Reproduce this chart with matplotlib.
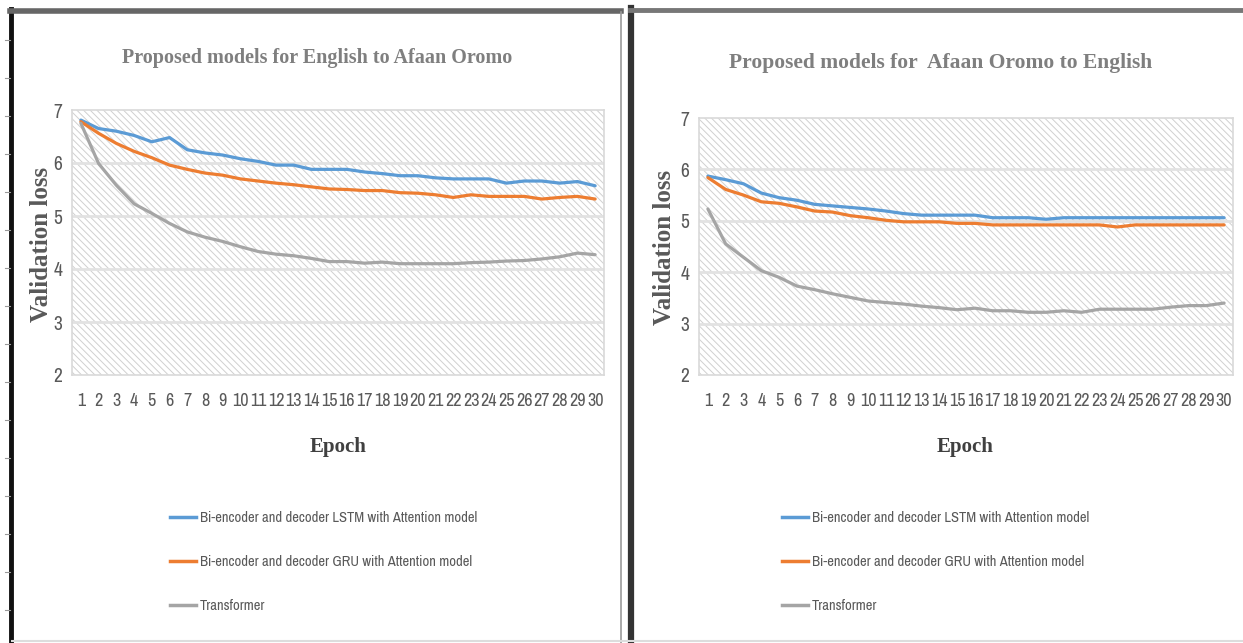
import matplotlib
matplotlib.use("Agg")
import matplotlib.pyplot as plt
from matplotlib import font_manager as fm
from matplotlib.patches import Rectangle
from matplotlib.lines import Line2D

# ─────────────────────────────
# Data
# ─────────────────────────────
epochs = list(range(1, 31))

en_om_lstm = [6.81, 6.65, 6.60, 6.52, 6.40, 6.48, 6.25, 6.19, 6.15, 6.08,
              6.03, 5.96, 5.96, 5.88, 5.88, 5.88, 5.83, 5.80, 5.76, 5.76,
              5.72, 5.70, 5.70, 5.70, 5.62, 5.66, 5.66, 5.62, 5.65, 5.57]
en_om_gru = [6.78, 6.56, 6.37, 6.22, 6.10, 5.96, 5.88, 5.81, 5.77, 5.70,
             5.66, 5.62, 5.59, 5.55, 5.51, 5.50, 5.48, 5.48, 5.44, 5.43,
             5.40, 5.35, 5.40, 5.37, 5.37, 5.37, 5.32, 5.35, 5.37, 5.32]
en_om_transformer = [6.75, 5.99, 5.58, 5.23, 5.05, 4.86, 4.70, 4.60, 4.52, 4.42,
                     4.33, 4.28, 4.25, 4.20, 4.14, 4.14, 4.11, 4.13, 4.10, 4.10,
                     4.10, 4.10, 4.12, 4.13, 4.15, 4.16, 4.19, 4.23, 4.30, 4.27]

om_en_lstm = [5.87, 5.80, 5.72, 5.54, 5.45, 5.40, 5.32, 5.29, 5.26, 5.23,
              5.19, 5.14, 5.11, 5.11, 5.11, 5.11, 5.06, 5.06, 5.06, 5.03,
              5.06, 5.06, 5.06, 5.06, 5.06, 5.06, 5.06, 5.06, 5.06, 5.06]
om_en_gru = [5.84, 5.61, 5.50, 5.37, 5.34, 5.27, 5.19, 5.17, 5.10, 5.06,
             5.01, 4.98, 4.98, 4.98, 4.95, 4.95, 4.92, 4.92, 4.92, 4.92,
             4.92, 4.92, 4.92, 4.88, 4.92, 4.92, 4.92, 4.92, 4.92, 4.92]
om_en_transformer = [5.23, 4.55, 4.29, 4.03, 3.90, 3.73, 3.66, 3.58, 3.51, 3.44,
                     3.41, 3.38, 3.34, 3.31, 3.27, 3.30, 3.25, 3.25, 3.22, 3.22,
                     3.25, 3.22, 3.28, 3.28, 3.28, 3.28, 3.32, 3.35, 3.35, 3.40]

series_names = ["Bi-encoder and decoder LSTM with Attention model",
                "Bi-encoder and decoder GRU with Attention model",
                "Transformer"]
titles = ["Proposed models for English to Afaan Oromo",
          "Proposed models for  Afaan Oromo to English"]
y_ticks = [2, 3, 4, 5, 6, 7]

# ─────────────────────────────
# Style
# ─────────────────────────────
COLORS = ["#5b9bd5", "#ed7d31", "#a5a5a5"]
SERIF = ["Liberation Serif", "DejaVu Serif"]

# look for a narrow sans (Excel uses condensed Calibri here); otherwise shrink
narrow = [f.name for f in fm.fontManager.ttflist
          if "Narrow" in f.name or "Condensed" in f.name
          or f.stretch in ("condensed", "semi-condensed")]
if narrow:
    SANS = [sorted(set(narrow))[0], "DejaVu Sans"]
    STRETCH = "condensed"
    TICK_FS, YTICK_FS, LEG_FS = 13, 14, 10.5
else:
    SANS = ["Liberation Sans", "DejaVu Sans"]
    STRETCH = "normal"
    TICK_FS, YTICK_FS, LEG_FS = 10, 11, 9

plt.rcParams["hatch.linewidth"] = 0.7

W, H = 1243, 643
fig = plt.figure(figsize=(W / 100, H / 100), dpi=100)


def box(x0, y0, x1, y1):
    """pixel box (top-left origin) -> figure fraction rect"""
    return [x0 / W, 1 - y1 / H, (x1 - x0) / W, (y1 - y0) / H]


def px(x, y):
    return x / W, 1 - y / H


# panel frames
frame = fig.add_axes([0, 0, 1, 1], zorder=-5)
frame.set_xlim(0, W)
frame.set_ylim(H, 0)
frame.axis("off")
frame.add_patch(Rectangle((0, 0), W, H, facecolor="white", edgecolor="none"))
frame.plot([11.5, 11.5], [9, 643], color="#111111", lw=3.5)
frame.plot([10, 621], [11, 11], color="#666666", lw=4)
frame.plot([621, 621], [12, 643], color="#999999", lw=1.2)
frame.plot([631.5, 631.5], [8, 643], color="#333333", lw=4.5)
frame.plot([630, W], [10, 10], color="#777777", lw=3.5)
frame.plot([12, W], [641, 641], color="#dddddd", lw=1.5)
for yy in range(40, 640, 38):
    frame.plot([5, 10], [yy, yy], color="#999999", lw=0.8)

panels = [
    dict(ax=box(72, 110, 604, 375), title=titles[0], tpos=(317, 58), tfs=14.5,
         ylab=(42, 244), epoch=(338, 447), legx=170,
         data=[en_om_lstm, en_om_gru, en_om_transformer]),
    dict(ax=box(699, 118, 1233, 375), title=titles[1], tpos=(941, 63), tfs=15.5,
         ylab=(664, 247), epoch=(965, 447), legx=782,
         data=[om_en_lstm, om_en_gru, om_en_transformer]),
]

for p in panels:
    ax = fig.add_axes(p["ax"])
    ax.set_facecolor("white")
    ax.add_patch(Rectangle((0, 0), 1, 1, transform=ax.transAxes,
                           facecolor="white", edgecolor="#d0d0d0",
                           hatch="\\\\\\\\\\", lw=0, zorder=0))
    for yv in y_ticks[1:-1]:
        ax.axhline(yv, color="#e2e2e2", lw=2, zorder=1)

    for vals, c in zip(p["data"], COLORS):
        ax.plot(epochs, vals, color=c, lw=2.3, solid_capstyle="round", zorder=3)

    ax.set_xlim(0.5, 30.5)
    ax.set_ylim(2, 7)
    ax.set_xticks(epochs)
    ax.set_yticks(y_ticks)
    ax.tick_params(length=0, pad=13, labelsize=TICK_FS, labelcolor="#595959")
    ax.tick_params(axis="y", pad=7, labelsize=YTICK_FS)
    for lab in ax.get_xticklabels() + ax.get_yticklabels():
        lab.set_family(SANS)
        lab.set_stretch(STRETCH)
    for s in ax.spines.values():
        s.set_color("#d9d9d9")
        s.set_linewidth(1.2)

    fig.text(*px(*p["tpos"]), p["title"], ha="center", va="center",
             family=SERIF, fontweight="bold", fontsize=p["tfs"], color="#7f7f7f")
    fig.text(*px(*p["ylab"]), "Validation loss", rotation=90, ha="center",
             va="center", family=SERIF, fontweight="bold", fontsize=18,
             color="#595959")
    fig.text(*px(*p["epoch"]), "Epoch", ha="center", va="center",
             family=SERIF, fontweight="bold", fontsize=15, color="#404040")

    handles = [Line2D([], [], color=c, lw=2.5) for c in COLORS]
    leg_px = LEG_FS * 100 / 72
    lx, ly = px(p["legx"], 518 - 0.5 * 0.95 * leg_px)
    fig.legend(handles, series_names, loc="upper left", bbox_to_anchor=(lx, ly),
               frameon=False, handlelength=26 / leg_px, handletextpad=4 / leg_px,
               labelspacing=(44 - 0.95 * leg_px) / leg_px, borderpad=0,
               borderaxespad=0,
               prop=dict(family=SANS, size=LEG_FS, stretch=STRETCH),
               labelcolor="#595959")

fig.savefig("out.png", dpi=100)
